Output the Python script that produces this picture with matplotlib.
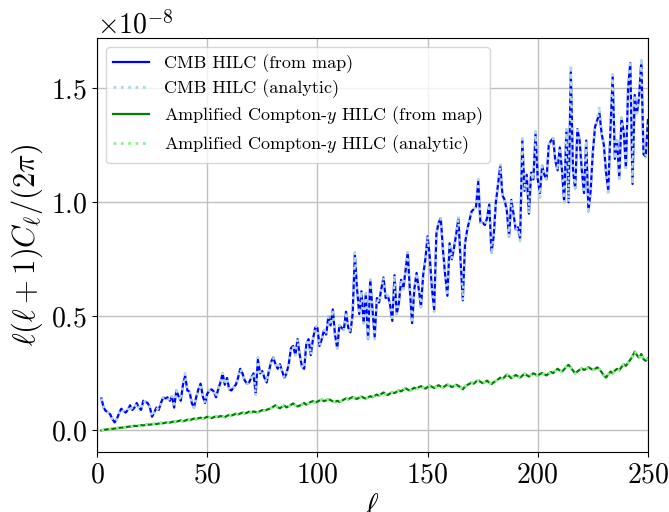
import numpy as np
import matplotlib
matplotlib.use("Agg")
import matplotlib.pyplot as plt

plt.rcParams['font.family'] = 'serif'
plt.rcParams['font.serif'] = ['cmr10']
plt.rcParams['mathtext.fontset'] = 'cm'
plt.rcParams['axes.formatter.use_mathtext'] = True
plt.rcParams['axes.unicode_minus'] = False

ell = np.arange(2, 251)

cmb_map = [
    0.14, 0.10, 0.085, 0.08, 0.07, 0.05, 0.035, 0.05, 0.075, 0.095,
    0.085, 0.078, 0.09, 0.11, 0.09, 0.10, 0.12, 0.10, 0.09, 0.13,
    0.125, 0.12, 0.10, 0.06, 0.08, 0.10, 0.09, 0.12, 0.145, 0.14,
    0.145, 0.13, 0.15, 0.10, 0.175, 0.15, 0.13, 0.20, 0.24, 0.175,
    0.17, 0.12, 0.10, 0.145, 0.18, 0.205, 0.15, 0.12, 0.16, 0.175,
    0.18, 0.17, 0.145, 0.18, 0.21, 0.25, 0.20, 0.23, 0.18, 0.175,
    0.19, 0.20, 0.23, 0.27, 0.25, 0.22, 0.205, 0.21, 0.23, 0.25,
    0.16, 0.31, 0.25, 0.26, 0.23, 0.21, 0.26, 0.30, 0.32, 0.29,
    0.27, 0.29, 0.26, 0.23, 0.25, 0.29, 0.36, 0.37, 0.33, 0.40,
    0.33, 0.28, 0.27, 0.38, 0.40, 0.33, 0.40, 0.45, 0.45, 0.37,
    0.40, 0.44, 0.42, 0.50, 0.46, 0.53, 0.42, 0.36, 0.46, 0.45,
    0.44, 0.52, 0.45, 0.43, 0.51, 0.77, 0.62, 0.51, 0.61, 0.47,
    0.60, 0.40, 0.66, 0.53, 0.41, 0.58, 0.56, 0.62, 0.67, 0.58,
    0.59, 0.55, 0.48, 0.68, 0.51, 0.56, 0.66, 0.62, 0.70, 0.78,
    0.61, 0.47, 0.62, 0.69, 0.62, 0.54, 0.68, 0.75, 0.85, 0.76,
    0.62, 0.53, 0.86, 0.91, 0.93, 0.79, 0.68, 0.59, 0.82, 0.75,
    0.80, 0.86, 0.93, 0.74, 0.57, 0.82, 0.88, 0.92, 0.96, 0.97,
    0.98, 1.09, 0.91, 0.91, 0.90, 0.93, 0.99, 0.78, 0.85, 1.00,
    1.08, 1.16, 1.03, 1.01, 0.96, 0.85, 1.01, 0.95, 0.88, 0.89,
    0.84, 1.27, 1.05, 1.12, 0.95, 1.13, 1.10, 1.30, 1.10, 1.04,
    1.16, 1.12, 1.10, 1.25, 1.27, 1.28, 1.18, 1.14, 1.24, 1.14,
    1.00, 1.32, 1.00, 1.57, 1.14, 1.06, 1.32, 1.27, 1.14, 1.04,
    1.27, 0.96, 1.05, 1.22, 1.33, 1.36, 1.39, 1.30, 1.25, 1.13,
    1.05, 1.32, 1.55, 1.19, 1.27, 1.11, 1.37, 1.31, 1.15, 1.50,
    1.61, 1.08, 1.47, 1.39, 1.46, 1.62, 1.21, 1.20, 1.36,
]

cmb_analytic = [
    0.14, 0.10, 0.087, 0.08, 0.07, 0.052, 0.037, 0.05, 0.075, 0.095,
    0.085, 0.078, 0.09, 0.11, 0.09, 0.10, 0.12, 0.10, 0.09, 0.13,
    0.125, 0.12, 0.10, 0.06, 0.08, 0.10, 0.09, 0.12, 0.145, 0.14,
    0.145, 0.13, 0.15, 0.10, 0.175, 0.15, 0.13, 0.20, 0.25, 0.175,
    0.17, 0.12, 0.10, 0.145, 0.18, 0.205, 0.15, 0.12, 0.16, 0.175,
    0.18, 0.17, 0.145, 0.18, 0.21, 0.25, 0.20, 0.23, 0.18, 0.175,
    0.19, 0.20, 0.23, 0.27, 0.25, 0.22, 0.205, 0.21, 0.23, 0.25,
    0.15, 0.32, 0.25, 0.26, 0.23, 0.21, 0.26, 0.30, 0.32, 0.29,
    0.27, 0.29, 0.26, 0.23, 0.25, 0.29, 0.36, 0.37, 0.33, 0.40,
    0.33, 0.28, 0.27, 0.38, 0.40, 0.33, 0.40, 0.46, 0.45, 0.37,
    0.40, 0.44, 0.42, 0.50, 0.46, 0.53, 0.42, 0.36, 0.46, 0.45,
    0.44, 0.52, 0.45, 0.43, 0.51, 0.78, 0.62, 0.51, 0.61, 0.47,
    0.60, 0.39, 0.66, 0.53, 0.40, 0.58, 0.56, 0.62, 0.67, 0.58,
    0.59, 0.55, 0.48, 0.68, 0.51, 0.56, 0.66, 0.62, 0.70, 0.78,
    0.61, 0.47, 0.62, 0.69, 0.62, 0.54, 0.68, 0.75, 0.85, 0.76,
    0.62, 0.52, 0.86, 0.91, 0.93, 0.79, 0.68, 0.59, 0.82, 0.75,
    0.80, 0.86, 0.94, 0.74, 0.57, 0.82, 0.88, 0.92, 0.96, 0.97,
    0.98, 1.10, 0.91, 0.91, 0.90, 0.93, 0.99, 0.77, 0.85, 1.00,
    1.08, 1.17, 1.03, 1.01, 0.96, 0.85, 1.01, 0.95, 0.88, 0.89,
    0.83, 1.28, 1.05, 1.12, 0.95, 1.13, 1.10, 1.31, 1.10, 1.02,
    1.16, 1.12, 1.10, 1.25, 1.27, 1.28, 1.18, 1.14, 1.24, 1.14,
    1.00, 1.32, 1.00, 1.60, 1.14, 1.06, 1.33, 1.27, 1.14, 1.04,
    1.27, 0.95, 1.05, 1.22, 1.33, 1.36, 1.42, 1.30, 1.25, 1.13,
    1.03, 1.32, 1.56, 1.19, 1.27, 1.09, 1.37, 1.31, 1.15, 1.50,
    1.62, 1.08, 1.47, 1.39, 1.46, 1.63, 1.21, 1.20, 1.36,
]

y_map = [
    0.000, 0.002, 0.004, 0.005, 0.006, 0.007, 0.008, 0.010, 0.011, 0.012,
    0.013, 0.014, 0.016, 0.017, 0.018, 0.020, 0.019, 0.021, 0.023, 0.022,
    0.024, 0.026, 0.025, 0.027, 0.029, 0.028, 0.030, 0.033, 0.031, 0.034,
    0.036, 0.034, 0.037, 0.040, 0.038, 0.041, 0.044, 0.040, 0.043, 0.047,
    0.045, 0.048, 0.052, 0.049, 0.053, 0.056, 0.051, 0.055, 0.060, 0.057,
    0.054, 0.058, 0.062, 0.059, 0.063, 0.061, 0.058, 0.064, 0.068, 0.065,
    0.069, 0.073, 0.070, 0.074, 0.078, 0.074, 0.077, 0.082, 0.079, 0.083,
    0.081, 0.078, 0.085, 0.089, 0.086, 0.090, 0.094, 0.098, 0.104, 0.110,
    0.102, 0.097, 0.104, 0.109, 0.101, 0.106, 0.112, 0.118, 0.110, 0.105,
    0.109, 0.114, 0.120, 0.113, 0.118, 0.125, 0.128, 0.122, 0.126, 0.131,
    0.135, 0.128, 0.132, 0.137, 0.133, 0.127, 0.124, 0.130, 0.125, 0.129,
    0.135, 0.140, 0.136, 0.142, 0.146, 0.141, 0.138, 0.144, 0.149, 0.143,
    0.139, 0.145, 0.150, 0.146, 0.152, 0.157, 0.151, 0.160, 0.166, 0.159,
    0.155, 0.162, 0.168, 0.163, 0.170, 0.176, 0.171, 0.178, 0.185, 0.179,
    0.174, 0.181, 0.187, 0.182, 0.189, 0.194, 0.188, 0.183, 0.190, 0.196,
    0.191, 0.186, 0.193, 0.198, 0.192, 0.188, 0.195, 0.201, 0.196, 0.190,
    0.194, 0.200, 0.195, 0.189, 0.180, 0.192, 0.199, 0.204, 0.210, 0.205,
    0.214, 0.220, 0.213, 0.207, 0.212, 0.218, 0.209, 0.203, 0.211, 0.217,
    0.224, 0.231, 0.225, 0.235, 0.245, 0.238, 0.229, 0.236, 0.243, 0.237,
    0.231, 0.240, 0.248, 0.242, 0.236, 0.244, 0.250, 0.245, 0.240, 0.247,
    0.252, 0.246, 0.241, 0.249, 0.256, 0.251, 0.262, 0.270, 0.263, 0.257,
    0.268, 0.280, 0.287, 0.275, 0.262, 0.250, 0.258, 0.266, 0.272, 0.265,
    0.270, 0.277, 0.271, 0.265, 0.270, 0.276, 0.268, 0.255, 0.240, 0.232,
    0.245, 0.258, 0.250, 0.262, 0.270, 0.263, 0.278, 0.290, 0.283, 0.296,
    0.310, 0.325, 0.345, 0.330, 0.318, 0.335, 0.312, 0.305, 0.315,
]

y_analytic = [
    0.000, 0.002, 0.004, 0.005, 0.006, 0.007, 0.008, 0.010, 0.011, 0.012,
    0.013, 0.014, 0.016, 0.017, 0.018, 0.020, 0.019, 0.021, 0.023, 0.022,
    0.024, 0.026, 0.025, 0.027, 0.029, 0.028, 0.030, 0.033, 0.031, 0.034,
    0.036, 0.034, 0.037, 0.040, 0.038, 0.041, 0.044, 0.040, 0.043, 0.047,
    0.045, 0.048, 0.052, 0.049, 0.053, 0.056, 0.051, 0.055, 0.060, 0.057,
    0.054, 0.058, 0.062, 0.059, 0.063, 0.061, 0.058, 0.064, 0.068, 0.065,
    0.069, 0.073, 0.070, 0.074, 0.078, 0.074, 0.077, 0.082, 0.079, 0.083,
    0.081, 0.078, 0.085, 0.089, 0.086, 0.090, 0.094, 0.098, 0.104, 0.111,
    0.102, 0.097, 0.104, 0.109, 0.101, 0.106, 0.112, 0.118, 0.110, 0.105,
    0.109, 0.114, 0.120, 0.113, 0.118, 0.125, 0.128, 0.122, 0.126, 0.131,
    0.135, 0.128, 0.132, 0.137, 0.133, 0.126, 0.124, 0.130, 0.125, 0.129,
    0.135, 0.140, 0.136, 0.142, 0.146, 0.141, 0.138, 0.144, 0.149, 0.143,
    0.139, 0.145, 0.150, 0.146, 0.152, 0.157, 0.151, 0.160, 0.166, 0.159,
    0.155, 0.162, 0.168, 0.163, 0.170, 0.176, 0.171, 0.178, 0.185, 0.179,
    0.174, 0.181, 0.187, 0.182, 0.189, 0.194, 0.188, 0.183, 0.190, 0.196,
    0.191, 0.186, 0.193, 0.198, 0.192, 0.188, 0.195, 0.201, 0.196, 0.190,
    0.194, 0.200, 0.195, 0.189, 0.178, 0.192, 0.199, 0.204, 0.210, 0.205,
    0.214, 0.220, 0.213, 0.207, 0.212, 0.218, 0.209, 0.203, 0.211, 0.217,
    0.224, 0.231, 0.225, 0.235, 0.246, 0.238, 0.229, 0.236, 0.243, 0.237,
    0.231, 0.240, 0.248, 0.242, 0.236, 0.244, 0.250, 0.245, 0.240, 0.247,
    0.252, 0.246, 0.241, 0.249, 0.256, 0.251, 0.262, 0.270, 0.263, 0.257,
    0.268, 0.281, 0.288, 0.275, 0.262, 0.249, 0.258, 0.266, 0.272, 0.265,
    0.270, 0.277, 0.271, 0.265, 0.270, 0.276, 0.268, 0.255, 0.238, 0.232,
    0.245, 0.258, 0.250, 0.262, 0.270, 0.263, 0.278, 0.290, 0.283, 0.296,
    0.310, 0.327, 0.347, 0.330, 0.318, 0.336, 0.312, 0.305, 0.315,
]

scale = 1e-8

fig = plt.figure(figsize=(6.69, 5.12), dpi=100)
ax = fig.add_axes([0.145, 0.117, 0.8235, 0.809])

ax.plot(ell, np.array(cmb_map) * scale, color='blue', lw=1.6,
        label='CMB HILC (from map)')
ax.plot(ell, np.array(cmb_analytic) * scale, color='lightblue', lw=2.0,
        ls=':', label='CMB HILC (analytic)')
ax.plot(ell, np.array(y_map) * scale, color='green', lw=1.6,
        label=r'Amplified Compton-$y$ HILC (from map)')
ax.plot(ell, np.array(y_analytic) * scale, color='lightgreen', lw=2.0,
        ls=':', label=r'Amplified Compton-$y$ HILC (analytic)')

ax.set_xlim(0, 250)
ax.set_ylim(-0.095e-8, 1.72e-8)
ax.set_xticks([0, 50, 100, 150, 200, 250])
ax.set_yticks([0, 0.5e-8, 1.0e-8, 1.5e-8])
ax.grid(True, color='#c0c0c0', lw=1.0)
ax.set_axisbelow(True)
ax.tick_params(labelsize=20)
ax.yaxis.get_offset_text().set_fontsize(20)

ax.set_xlabel(r'$\ell$', fontsize=22)
ax.set_ylabel(r'$\ell(\ell+1)C_\ell/(2\pi)$', fontsize=22)

ax.legend(loc='upper left', fontsize=13, framealpha=0.8, labelspacing=0.35)

fig.savefig('out.png', dpi=100)
